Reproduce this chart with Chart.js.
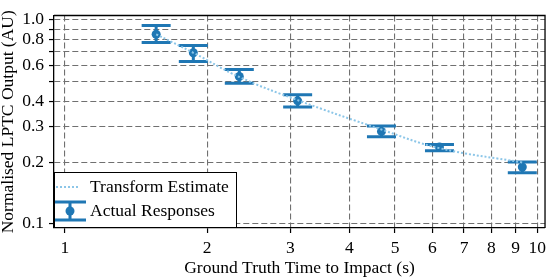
<!DOCTYPE html>
<html>
<head>
<meta charset="utf-8">
<title>LPTC output vs time to impact</title>
<script src="https://cdn.jsdelivr.net/npm/chart.js@4"></script>
<style>
  html, body { margin: 0; padding: 0; background: #fff; }
  #wrap { width: 551px; height: 277px; }
</style>
</head>
<body>
<div id="wrap"><canvas id="lptcChart" width="551" height="277"></canvas></div>
<script>
// ---- data ----
const timeToImpact   = [1.56, 1.87, 2.34, 3.11, 4.68, 6.21, 9.30];
const responseMean   = [0.850, 0.690, 0.528, 0.401, 0.284, 0.238, 0.190];
const responseUpper  = [0.938, 0.748, 0.572, 0.430, 0.302, 0.245, 0.201];
const responseLower  = [0.775, 0.626, 0.489, 0.374, 0.267, 0.228, 0.178];
const transformEst   = [0.850, 0.690, 0.525, 0.404, 0.290, 0.235, 0.200];

const xTicks = [1, 2, 3, 4, 5, 6, 7, 8, 9, 10];
const yTicks = [0.1, 0.2, 0.3, 0.4, 0.5, 0.6, 0.7, 0.8, 0.9, 1.0];
const yTickLabels = { 0.1: "0.1", 0.2: "0.2", 0.3: "0.3", 0.4: "0.4", 0.6: "0.6", 0.8: "0.8", 1: "1.0" };

const BLUE = "#1f77b4";
const LIGHT = "rgba(140, 198, 232, 1)";
const GRID = "#707070";
const SERIF = "'Liberation Serif', 'Times New Roman', serif";
const CAP = 14.5;

// error bars (drawn under the markers, through the scales)
const errorBarPlugin = {
  id: "errorBars",
  beforeDatasetsDraw(chart) {
    const ctx = chart.ctx;
    const xs = chart.scales.x, ys = chart.scales.y;
    ctx.save();
    ctx.strokeStyle = BLUE;
    ctx.lineWidth = 3;
    timeToImpact.forEach((t, i) => {
      const px = xs.getPixelForValue(t);
      const yt = ys.getPixelForValue(responseUpper[i]);
      const yb = ys.getPixelForValue(responseLower[i]);
      ctx.beginPath();
      ctx.moveTo(px, yt); ctx.lineTo(px, yb);
      ctx.moveTo(px - CAP, yt); ctx.lineTo(px + CAP, yt);
      ctx.moveTo(px - CAP, yb); ctx.lineTo(px + CAP, yb);
      ctx.stroke();
    });
    ctx.restore();
  }
};

// frame on top/right + legend box in the lower left corner
const frameLegendPlugin = {
  id: "frameLegend",
  afterDraw(chart) {
    const ctx = chart.ctx;
    const a = chart.chartArea;
    ctx.save();
    ctx.strokeStyle = "#000";
    ctx.lineWidth = 1.3;
    ctx.beginPath();
    ctx.moveTo(a.left, a.top); ctx.lineTo(a.right, a.top); ctx.lineTo(a.right, a.bottom);
    ctx.stroke();

    // legend
    const lx = a.left, ly = 172, lw = 183, lh = a.bottom - 172;
    ctx.fillStyle = "#fff";
    ctx.fillRect(lx, ly, lw, lh);
    ctx.lineWidth = 1;
    ctx.strokeRect(lx + 0.5, ly + 0.5, lw - 1, lh - 1);

    // Transform Estimate sample
    ctx.strokeStyle = LIGHT;
    ctx.lineWidth = 2;
    ctx.setLineDash([2, 2]);
    ctx.beginPath();
    ctx.moveTo(56, 187); ctx.lineTo(79, 187);
    ctx.stroke();
    ctx.setLineDash([]);

    // Actual Responses sample
    ctx.strokeStyle = BLUE;
    ctx.lineWidth = 3;
    ctx.beginPath();
    ctx.moveTo(70, 202); ctx.lineTo(70, 220);
    ctx.moveTo(55, 202); ctx.lineTo(86, 202);
    ctx.moveTo(55, 220); ctx.lineTo(86, 220);
    ctx.stroke();
    ctx.fillStyle = BLUE;
    ctx.beginPath();
    ctx.arc(70, 211, 4.5, 0, Math.PI * 2);
    ctx.fill();

    ctx.fillStyle = "#000";
    ctx.font = "17.5px " + SERIF;
    ctx.textBaseline = "middle";
    ctx.textAlign = "left";
    ctx.fillText("Transform Estimate", 90, 187);
    ctx.fillText("Actual Responses", 90, 211);
    ctx.restore();
  }
};

const ctx = document.getElementById("lptcChart").getContext("2d");

new Chart(ctx, {
  type: "scatter",
  data: {
    datasets: [
      {
        label: "Transform Estimate",
        type: "line",
        data: timeToImpact.map((t, i) => ({ x: t, y: transformEst[i] })),
        borderColor: LIGHT,
        borderWidth: 2,
        borderDash: [2, 2],
        pointRadius: 0,
        tension: 0.4,
        fill: false,
        order: 0
      },
      {
        label: "Actual Responses",
        data: timeToImpact.map((t, i) => ({ x: t, y: responseMean[i] })),
        backgroundColor: BLUE,
        borderWidth: 0,
        pointRadius: 4.5,
        order: 1
      }
    ]
  },
  options: {
    responsive: false,
    animation: false,
    layout: { padding: { top: 2, right: 3, left: 0, bottom: 0 } },
    plugins: {
      legend: { display: false },
      tooltip: { enabled: false }
    },
    scales: {
      x: {
        type: "logarithmic",
        min: 0.948,
        max: 10.39,
        afterBuildTicks: (s) => { s.ticks = xTicks.map(v => ({ value: v })); },
        afterFit: (s) => { s.height = 49; },
        ticks: {
          autoSkip: false,
          maxRotation: 0,
          padding: 5,
          color: "#000",
          font: { family: SERIF, size: 17.5 },
          callback: (v) => String(v)
        },
        grid: { color: GRID, lineWidth: 1.1, tickLength: 5, tickColor: "#000", tickWidth: 1.2 },
        border: { color: "#000", width: 1.3, dash: [6, 3] },
        title: {
          display: true,
          text: "Ground Truth Time to Impact (s)",
          color: "#000",
          font: { family: SERIF, size: 17.5, lineHeight: 1 },
          padding: 0
        }
      },
      y: {
        type: "logarithmic",
        min: 0.0954,
        max: 1.051,
        afterBuildTicks: (s) => { s.ticks = yTicks.map(v => ({ value: v })); },
        afterFit: (s) => { s.width = 54; },
        ticks: {
          autoSkip: false,
          padding: 5,
          color: "#000",
          font: { family: SERIF, size: 17.5 },
          callback: (v) => yTickLabels[Math.round(v * 10) / 10] || ""
        },
        grid: { color: GRID, lineWidth: 1.1, tickLength: 5, tickColor: "#000", tickWidth: 1.2 },
        border: { color: "#000", width: 1.3, dash: [6, 3] },
        title: {
          display: true,
          text: "Normalised LPTC Output (AU)",
          color: "#000",
          font: { family: SERIF, size: 17.5, lineHeight: 1 },
          padding: { top: 0, bottom: 0 }
        }
      }
    }
  },
  plugins: [errorBarPlugin, frameLegendPlugin]
});
</script>
</body>
</html>
